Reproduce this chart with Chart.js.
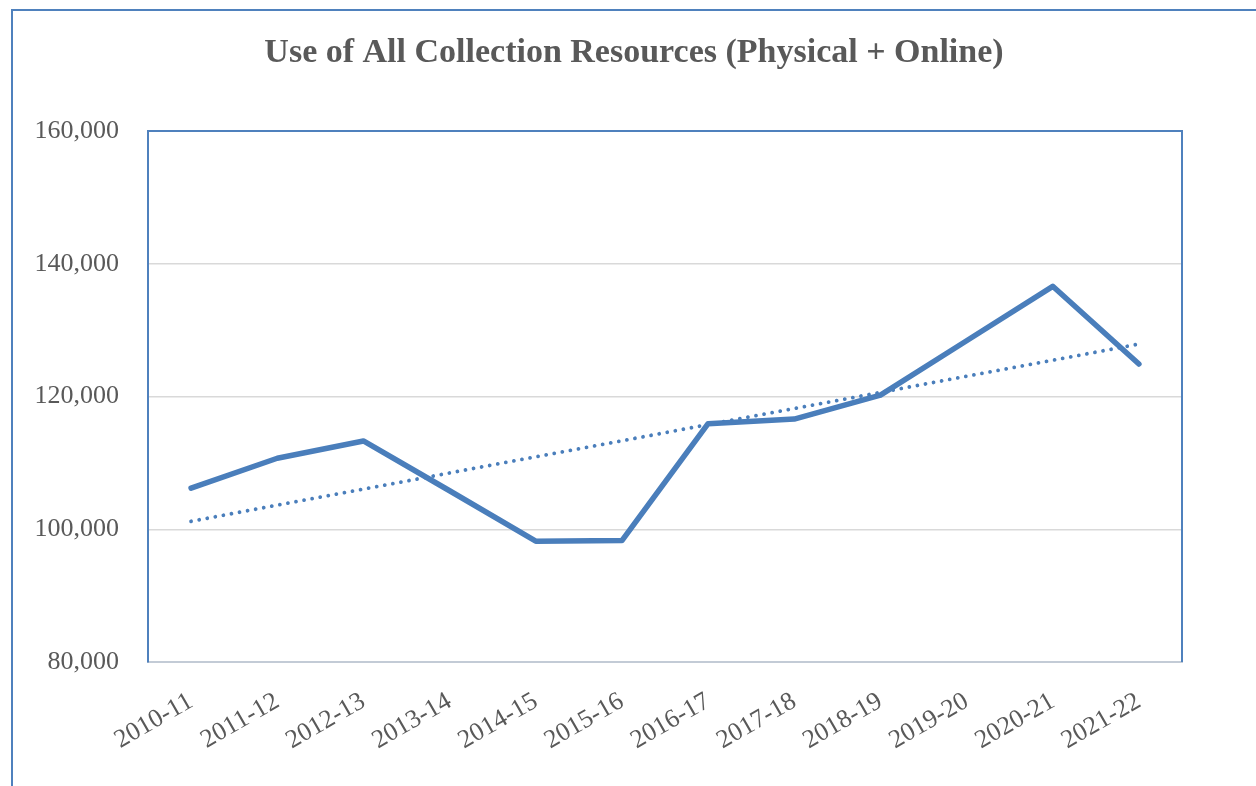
<!DOCTYPE html>
<html>
<head>
<meta charset="utf-8">
<script src="https://cdn.jsdelivr.net/npm/chart.js@4/dist/chart.umd.min.js"></script>
<style>
	html, body { margin: 0; padding: 0; background: #fff; }
	canvas { display: block; }
</style>
</head>
<body>
<canvas id="chart" width="1256" height="786"></canvas>
<script>
// Data
const years = ['2010-11', '2011-12', '2012-13', '2013-14', '2014-15', '2015-16',
	'2016-17', '2017-18', '2018-19', '2019-20', '2020-21', '2021-22']
const usage = [106200, 110700, 113300, 105800, 98200, 98300,
	115900, 116600, 120200, 128400, 136600, 124900]
// linear trendline, only the two ends
const trend = [101200, null, null, null, null, null, null, null, null, null, null, 127900]
const yTicks = [80000, 100000, 120000, 140000, 160000]

const titleText = 'Use of All Collection Resources (Physical + Online)'
const blue = '#4a7ebb'
const textGrey = '#595959'
const serif = '"Liberation Serif", "Times New Roman", serif'

const frame = {
	id: 'frame',
	beforeDraw(chart) {
		const c = chart.ctx
		c.save()
		// outer chart border (only top + left are in view)
		c.strokeStyle = '#4f81bd'
		c.lineWidth = 2
		c.beginPath()
		c.moveTo(12, 786)
		c.lineTo(12, 10)
		c.lineTo(1256, 10)
		c.stroke()
		c.restore()
	},
	beforeDatasetsDraw(chart) {
		const a = chart.chartArea
		const c = chart.ctx
		c.save()
		c.strokeStyle = '#4f81bd'
		c.lineWidth = 2
		c.beginPath()
		c.moveTo(a.left, a.top)
		c.lineTo(a.right, a.top)
		c.lineTo(a.right, a.bottom)
		c.stroke()
		c.restore()
	},
	afterDraw(chart) {
		const c = chart.ctx
		c.save()
		c.font = 'bold 34px ' + serif
		c.fillStyle = textGrey
		c.textAlign = 'center'
		c.textBaseline = 'middle'
		c.fillText(titleText, 634, 53)
		c.restore()
	},
}

new Chart(document.getElementById('chart'), {
	type: 'line',
	data: {
		labels: years,
		datasets: [
			{
				label: 'Use',
				data: usage,
				borderColor: blue,
				borderWidth: 5.5,
				borderJoinStyle: 'round',
				borderCapStyle: 'round',
				pointRadius: 0,
				tension: 0,
			},
			{
				label: 'Trend',
				data: trend,
				spanGaps: true,
				borderColor: blue,
				borderWidth: 3.8,
				borderCapStyle: 'round',
				borderDash: [0.01, 8.2],
				pointRadius: 0,
			},
		],
	},
	options: {
		responsive: false,
		animation: false,
		devicePixelRatio: 1,
		layout: { padding: { top: 131, right: 74, left: 0, bottom: 0 } },
		plugins: {
			legend: { display: false },
			title: { display: false },
			tooltip: { enabled: false },
		},
		scales: {
			x: {
				offset: true,
				grid: { display: false, drawTicks: false },
				border: { color: '#c3cbd6', width: 2 },
				ticks: {
					autoSkip: false,
					minRotation: 30,
					maxRotation: 30,
					padding: 24,
					color: textGrey,
					font: { family: serif, size: 26 },
				},
				afterFit(s) { s.height = 124 },
			},
			y: {
				min: yTicks[0],
				max: yTicks[yTicks.length - 1],
				afterBuildTicks(s) { s.ticks = yTicks.map(v => ({ value: v })) },
				grid: { color: '#d9d9d9', lineWidth: 1.5, drawTicks: false },
				border: { color: '#4f81bd', width: 2 },
				ticks: {
					padding: 29,
					color: textGrey,
					font: { family: serif, size: 26 },
					callback: v => v.toLocaleString('en-US'),
				},
				afterFit(s) { s.width = 148 },
			},
		},
	},
	plugins: [frame],
})
</script>
</body>
</html>
